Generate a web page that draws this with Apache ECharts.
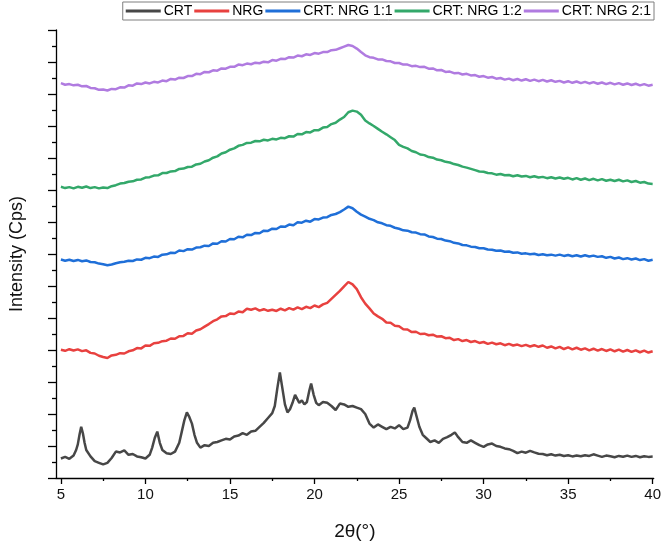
<!DOCTYPE html>
<html>
<head>
<meta charset="utf-8">
<script src="https://cdn.jsdelivr.net/npm/echarts@6/dist/echarts.min.js"></script>
<style>html,body{margin:0;padding:0;background:#fff;}#c{width:664px;height:551px;}</style>
</head>
<body>
<div id="c"></div>
<script>
// Series names
const seriesNames = ['CRT', 'NRG', 'CRT: NRG 1:1', 'CRT: NRG 1:2', 'CRT: NRG 2:1'];
// X tick labels
const xTickLabels = [5, 10, 15, 20, 25, 30, 35, 40];
const xMinorTicks = [7.5, 12.5, 17.5, 22.5, 27.5, 32.5, 37.5];

// Common 2θ grid (degrees) for NRG and the mixtures
const angle = [
  5.00, 5.25, 5.50, 5.75, 6.00, 6.25, 6.50, 6.75, 7.00, 7.25, 7.50, 7.75,
  8.00, 8.25, 8.50, 8.75, 9.00, 9.25, 9.50, 9.75, 10.00, 10.25, 10.50, 10.75,
  11.00, 11.25, 11.50, 11.75, 12.00, 12.25, 12.50, 12.75, 13.00, 13.25, 13.50, 13.75,
  14.00, 14.25, 14.50, 14.75, 15.00, 15.25, 15.50, 15.75, 16.00, 16.25, 16.50, 16.75,
  17.00, 17.25, 17.50, 17.75, 18.00, 18.25, 18.50, 18.75, 19.00, 19.25, 19.50, 19.75,
  20.00, 20.25, 20.50, 20.75, 21.00, 21.25, 21.50, 21.75, 22.00, 22.25, 22.50, 22.75,
  23.00, 23.25, 23.50, 23.75, 24.00, 24.25, 24.50, 24.75, 25.00, 25.25, 25.50, 25.75,
  26.00, 26.25, 26.50, 26.75, 27.00, 27.25, 27.50, 27.75, 28.00, 28.25, 28.50, 28.75,
  29.00, 29.25, 29.50, 29.75, 30.00, 30.25, 30.50, 30.75, 31.00, 31.25, 31.50, 31.75,
  32.00, 32.25, 32.50, 32.75, 33.00, 33.25, 33.50, 33.75, 34.00, 34.25, 34.50, 34.75,
  35.00, 35.25, 35.50, 35.75, 36.00, 36.25, 36.50, 36.75, 37.00, 37.25, 37.50, 37.75,
  38.00, 38.25, 38.50, 38.75, 39.00, 39.25, 39.50, 39.75, 40.00
];

// NRG (stacked offset intensity, arbitrary units)
const nrg = [
  8.02, 7.95, 8.05, 7.97, 8.04, 7.93, 7.98, 7.82, 7.78, 7.64, 7.56, 7.50,
  7.66, 7.70, 7.80, 7.78, 7.92, 7.98, 8.12, 8.10, 8.28, 8.26, 8.42, 8.45,
  8.55, 8.58, 8.72, 8.70, 8.86, 8.88, 9.05, 9.02, 9.22, 9.30, 9.46, 9.62,
  9.80, 9.92, 10.10, 10.12, 10.28, 10.25, 10.40, 10.36, 10.58, 10.52, 10.60, 10.46,
  10.55, 10.45, 10.52, 10.44, 10.58, 10.48, 10.62, 10.52, 10.66, 10.55, 10.70, 10.62,
  10.78, 10.68, 10.85, 10.95, 11.20, 11.45, 11.70, 11.98, 12.25, 12.10, 11.80, 11.30,
  10.90, 10.60, 10.28, 10.10, 9.95, 9.72, 9.70, 9.52, 9.48, 9.30, 9.28, 9.12,
  9.14, 9.00, 9.02, 8.92, 8.96, 8.84, 8.86, 8.74, 8.76, 8.62, 8.68, 8.56,
  8.62, 8.50, 8.56, 8.44, 8.50, 8.38, 8.46, 8.36, 8.42, 8.30, 8.38, 8.28,
  8.34, 8.24, 8.32, 8.22, 8.30, 8.20, 8.28, 8.14, 8.22, 8.10, 8.20, 8.06,
  8.16, 8.04, 8.14, 8.02, 8.10, 7.98, 8.08, 7.96, 8.06, 7.94, 8.04, 7.92,
  8.02, 7.90, 8.00, 7.88, 7.98, 7.86, 7.96, 7.84, 7.92
];

// CRT: NRG 1:1
const mix11 = [
  13.66, 13.58, 13.64, 13.56, 13.63, 13.55, 13.60, 13.50, 13.48, 13.40, 13.36, 13.30,
  13.34, 13.42, 13.48, 13.52, 13.58, 13.56, 13.66, 13.64, 13.76, 13.74, 13.84, 13.82,
  13.96, 13.98, 14.08, 14.06, 14.22, 14.18, 14.30, 14.28, 14.40, 14.42, 14.52, 14.50,
  14.66, 14.64, 14.80, 14.78, 14.94, 14.92, 15.08, 15.04, 15.20, 15.18, 15.32, 15.30,
  15.46, 15.44, 15.58, 15.56, 15.72, 15.70, 15.84, 15.80, 15.98, 15.96, 16.08, 16.02,
  16.18, 16.16, 16.28, 16.30, 16.44, 16.50, 16.62, 16.78, 16.96, 16.86, 16.64, 16.46,
  16.34, 16.20, 16.12, 15.98, 15.92, 15.80, 15.76, 15.64, 15.58, 15.48, 15.46, 15.36,
  15.34, 15.24, 15.22, 15.10, 15.06, 14.96, 14.94, 14.84, 14.80, 14.70, 14.66, 14.56,
  14.54, 14.46, 14.44, 14.36, 14.36, 14.28, 14.26, 14.20, 14.22, 14.14, 14.16, 14.08,
  14.10, 14.02, 14.04, 13.98, 14.02, 13.94, 13.98, 13.92, 13.96, 13.90, 13.96, 13.88,
  13.94, 13.86, 13.92, 13.84, 13.92, 13.84, 13.90, 13.82, 13.86, 13.76, 13.82, 13.72,
  13.78, 13.68, 13.74, 13.66, 13.72, 13.62, 13.68, 13.58, 13.64
];

// CRT: NRG 1:2
const mix12 = [
  18.20, 18.12, 18.18, 18.10, 18.20, 18.14, 18.22, 18.12, 18.18, 18.10, 18.16, 18.12,
  18.24, 18.30, 18.40, 18.44, 18.52, 18.54, 18.64, 18.66, 18.78, 18.80, 18.90, 18.92,
  19.06, 19.06, 19.16, 19.18, 19.32, 19.34, 19.44, 19.46, 19.60, 19.64, 19.78, 19.86,
  20.02, 20.10, 20.28, 20.36, 20.52, 20.60, 20.76, 20.82, 20.94, 20.96, 21.06, 21.04,
  21.14, 21.10, 21.20, 21.16, 21.26, 21.24, 21.36, 21.34, 21.50, 21.48, 21.62, 21.60,
  21.74, 21.74, 21.90, 21.94, 22.12, 22.20, 22.40, 22.56, 22.86, 22.96, 22.90, 22.70,
  22.34, 22.16, 22.00, 21.82, 21.64, 21.48, 21.30, 21.12, 20.82, 20.70, 20.60, 20.44,
  20.36, 20.22, 20.18, 20.06, 20.02, 19.90, 19.86, 19.76, 19.72, 19.62, 19.56, 19.46,
  19.40, 19.32, 19.24, 19.16, 19.14, 19.06, 19.04, 18.96, 19.00, 18.92, 18.94, 18.86,
  18.92, 18.84, 18.88, 18.80, 18.86, 18.78, 18.82, 18.74, 18.80, 18.72, 18.78, 18.70,
  18.76, 18.66, 18.74, 18.64, 18.72, 18.62, 18.70, 18.60, 18.68, 18.58, 18.64, 18.56,
  18.64, 18.54, 18.60, 18.50, 18.56, 18.46, 18.50, 18.40, 18.38
];

// CRT: NRG 2:1
const mix21 = [
  24.68, 24.58, 24.62, 24.54, 24.58, 24.48, 24.50, 24.38, 24.36, 24.26, 24.28, 24.22,
  24.32, 24.30, 24.42, 24.40, 24.54, 24.52, 24.66, 24.62, 24.72, 24.66, 24.76, 24.72,
  24.84, 24.80, 24.94, 24.90, 25.02, 25.00, 25.12, 25.12, 25.26, 25.24, 25.38, 25.36,
  25.48, 25.46, 25.60, 25.58, 25.70, 25.70, 25.84, 25.80, 25.90, 25.86, 25.96, 25.92,
  26.02, 25.98, 26.12, 26.08, 26.20, 26.18, 26.30, 26.28, 26.40, 26.36, 26.48, 26.44,
  26.56, 26.52, 26.62, 26.62, 26.74, 26.76, 26.86, 26.96, 27.06, 27.00, 26.84, 26.62,
  26.42, 26.30, 26.26, 26.16, 26.16, 26.06, 26.04, 25.94, 25.94, 25.84, 25.84, 25.74,
  25.76, 25.68, 25.70, 25.58, 25.60, 25.48, 25.50, 25.38, 25.40, 25.30, 25.32, 25.22,
  25.26, 25.16, 25.18, 25.08, 25.12, 25.02, 25.06, 24.96, 25.00, 24.90, 24.96, 24.86,
  24.94, 24.84, 24.92, 24.82, 24.90, 24.80, 24.88, 24.78, 24.86, 24.76, 24.82, 24.72,
  24.80, 24.70, 24.78, 24.68, 24.76, 24.66, 24.74, 24.64, 24.72, 24.62, 24.70, 24.60,
  24.68, 24.58, 24.66, 24.56, 24.64, 24.54, 24.62, 24.52, 24.58
];

// CRT (crystalline) – own angle grid, denser around the peaks
const crtAngle = [
  5.0, 5.25, 5.5, 5.75, 5.9, 6.0, 6.1, 6.2, 6.3, 6.4, 6.5, 6.75, 7.0, 7.25, 7.5, 7.75,
  8.0, 8.25, 8.5, 8.75, 9.0, 9.25, 9.5, 9.75, 10.0, 10.25, 10.4, 10.55, 10.7, 10.85,
  11.0, 11.25, 11.5, 11.75, 12.0, 12.15, 12.3, 12.45, 12.6, 12.75, 12.9, 13.05, 13.25,
  13.5, 13.75, 14.0, 14.25, 14.5, 14.75, 15.0, 15.25, 15.5, 15.75, 16.0, 16.25, 16.5,
  16.75, 17.0, 17.25, 17.5, 17.65, 17.8, 17.95, 18.1, 18.25, 18.4, 18.55, 18.7, 18.85,
  18.95, 19.1, 19.25, 19.4, 19.55, 19.7, 19.8, 19.95, 20.1, 20.25, 20.5, 20.75, 21.0,
  21.25, 21.5, 21.75, 22.0, 22.25, 22.5, 22.75, 23.0, 23.25, 23.5, 23.75, 24.0, 24.25,
  24.5, 24.75, 25.0, 25.25, 25.5, 25.65, 25.8, 25.9, 26.05, 26.2, 26.4, 26.6, 26.85,
  27.1, 27.35, 27.6, 27.85, 28.1, 28.3, 28.5, 28.75, 29.0, 29.25, 29.5, 29.75, 30.0,
  30.25, 30.5, 30.75, 31.0, 31.25, 31.5, 31.75, 32.0, 32.25, 32.5, 32.75, 33.0, 33.25,
  33.5, 33.75, 34.0, 34.25, 34.5, 34.75, 35.0, 35.25, 35.5, 35.75, 36.0, 36.25, 36.5,
  36.75, 37.0, 37.25, 37.5, 37.75, 38.0, 38.25, 38.5, 38.75, 39.0, 39.25, 39.5, 39.75, 40.0
];
const crt = [
  1.22, 1.32, 1.20, 1.40, 1.75, 2.10, 2.70, 3.20, 2.80, 2.20, 1.75, 1.35, 1.05, 0.95, 0.85, 0.95,
  1.25, 1.65, 1.60, 1.72, 1.45, 1.50, 1.35, 1.30, 1.22, 1.45, 1.90, 2.50, 2.90, 2.20,
  1.75, 1.55, 1.50, 1.65, 2.20, 2.90, 3.60, 4.10, 3.80, 3.40, 2.70, 2.20, 1.90,
  2.05, 2.00, 2.20, 2.25, 2.35, 2.45, 2.40, 2.60, 2.65, 2.80, 2.70, 2.90, 2.95,
  3.20, 3.45, 3.75, 4.05, 4.50, 5.60, 6.60, 5.60, 4.60, 4.10, 4.30, 4.70, 5.20,
  5.30, 4.70, 4.85, 4.60, 4.75, 5.50, 5.90, 5.20, 4.70, 4.55, 4.75, 4.70, 4.50,
  4.25, 4.65, 4.60, 4.45, 4.50, 4.40, 4.30, 4.00, 3.40, 3.15, 3.35, 3.20, 3.05,
  3.20, 3.10, 3.30, 3.05, 3.15, 3.60, 4.20, 4.40, 3.80, 3.20, 2.70, 2.50, 2.25,
  2.35, 2.20, 2.45, 2.55, 2.70, 2.85, 2.55, 2.25, 2.20, 2.35, 2.20, 2.05, 1.95,
  2.10, 2.15, 2.00, 1.95, 1.85, 1.80, 1.70, 1.55, 1.65, 1.58, 1.70, 1.60, 1.52,
  1.50, 1.42, 1.48, 1.40, 1.45, 1.38, 1.42, 1.35, 1.40, 1.36, 1.42, 1.38, 1.48,
  1.40, 1.32, 1.40, 1.36, 1.30, 1.38, 1.33, 1.40, 1.32, 1.38, 1.30, 1.36, 1.32, 1.34
];

const colors = ['#474747', '#e8413f', '#1f6fd8', '#33a86a', '#b07be0'];

function pairs(xs, ys) { return xs.map((x, i) => [x, ys[i]]); }
const seriesData = [pairs(crtAngle, crt), pairs(angle, nrg), pairs(angle, mix11), pairs(angle, mix12), pairs(angle, mix21)];

const font = 'Liberation Sans, Arial, sans-serif';
const chart = echarts.init(document.getElementById('c'), null, { renderer: 'canvas' });
chart.setOption({
  animation: false,
  backgroundColor: '#ffffff',
  color: colors,
  legend: {
    right: 10, top: 2,
    itemWidth: 35, itemHeight: 3, itemGap: 2,
    icon: 'rect',
    borderColor: '#7f7f7f', borderWidth: 1, padding: [2, 3, 2, 3],
    backgroundColor: '#fff',
    textStyle: { fontFamily: font, fontSize: 14, color: '#000', padding: [0, 0, 0, -2] },
    data: seriesNames
  },
  grid: { left: 52, right: 10, top: 30, bottom: 73, containLabel: false },
  xAxis: [{
    type: 'value', min: 4.71, max: 40.06,
    name: '2θ(°)', nameLocation: 'middle', nameGap: 44,
    nameTextStyle: { fontFamily: font, fontSize: 19, color: '#111' },
    axisLine: { show: true, onZero: false, lineStyle: { color: '#000', width: 1.3 } },
    axisTick: { show: true, length: 6, lineStyle: { color: '#000', width: 1.3 }, customValues: xTickLabels },
    axisLabel: { fontFamily: font, fontSize: 15, color: '#111', margin: 9, customValues: xTickLabels },
    splitLine: { show: false }
  }, {
    type: 'value', min: 4.71, max: 40.06, position: 'bottom',
    axisLine: { show: false },
    axisTick: { show: true, length: 3, lineStyle: { color: '#000', width: 1.3 }, customValues: xMinorTicks },
    axisLabel: { show: false },
    splitLine: { show: false }
  }],
  yAxis: {
    type: 'value', min: 0, max: 28, interval: 2,
    name: 'Intensity (Cps)', nameLocation: 'middle', nameGap: 30, nameRotate: 90,
    nameTextStyle: { fontFamily: font, fontSize: 18, color: '#111' },
    axisLine: { show: true, onZero: false, lineStyle: { color: '#000', width: 1.3 } },
    axisTick: { show: true, length: 8, lineStyle: { color: '#000', width: 1.3 } },
    minorTick: { show: true, splitNumber: 2, length: 4, lineStyle: { color: '#000', width: 1.3 } },
    axisLabel: { show: false },
    splitLine: { show: false },
    minorSplitLine: { show: false }
  },
  series: seriesNames.map((n, i) => ({
    name: n, type: 'line', data: seriesData[i], xAxisIndex: 0,
    showSymbol: false, symbol: 'none', smooth: false,
    lineStyle: { width: 2.5, color: colors[i] },
    itemStyle: { color: colors[i] }
  }))
});
</script>
</body>
</html>
